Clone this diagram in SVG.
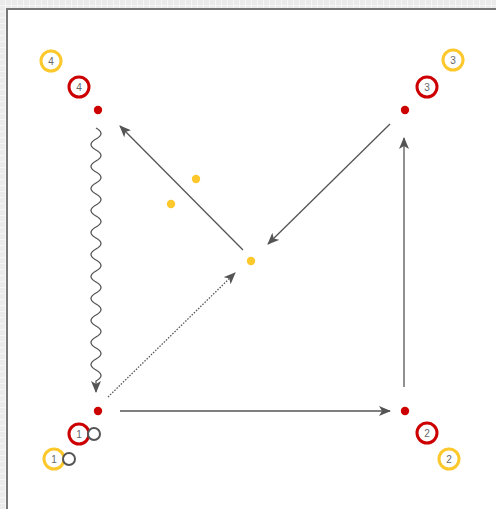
<svg xmlns="http://www.w3.org/2000/svg" width="496" height="509" viewBox="0 0 496 509">
<defs>
<pattern id="grid" width="6" height="6" patternUnits="userSpaceOnUse">
<rect width="6" height="6" fill="#f6f6f6"/>
<rect x="0" y="0" width="5" height="5" fill="#ebebeb"/>
</pattern>
<marker id="ah" markerWidth="12" markerHeight="10" refX="11" refY="5" orient="auto" markerUnits="userSpaceOnUse">
<path d="M0,0 L12,5 L0,10 L3,5 z" fill="#555"/>
</marker>
<style>
.conn{fill:none;stroke:#555;stroke-width:1.3}
.dot{fill:#cc0000}
.ydot{fill:#fcc82b}
.rr{fill:#fff;stroke:#cc0000;stroke-width:3}
.yr{fill:#fff;stroke:#fcc82b;stroke-width:3}
.gr{fill:#fff;stroke:#555;stroke-width:2}
.lbl{font-family:"Liberation Sans",Arial,sans-serif;font-size:10px;fill:#666;text-anchor:middle;dominant-baseline:central}
</style>
</defs>
<rect width="496" height="509" fill="url(#grid)"/>
<rect x="7" y="9" width="500" height="510" fill="#fff" stroke="#777" stroke-width="2"/>
<g id="connectors">
<line class="conn" x1="120" y1="411" x2="390" y2="411" marker-end="url(#ah)"/>
<line class="conn" x1="404" y1="387" x2="404" y2="138" marker-end="url(#ah)"/>
<line class="conn" x1="390" y1="124" x2="268" y2="244" marker-end="url(#ah)"/>
<line class="conn" x1="243" y1="250" x2="120" y2="126" marker-end="url(#ah)"/>
<line class="conn" x1="108" y1="397" x2="235" y2="273" stroke-dasharray="1.5,1.5" stroke-width="1.1" marker-end="url(#ah)"/>
<path class="conn" d="M96,128 q10,5.5 0,11 t0,11 t0,11 t0,11 t0,11 t0,11 t0,11 t0,11 t0,11 t0,11 t0,11 t0,11 t0,11 t0,11 t0,11 t0,11 t0,11 t0,11 t0,11 t0,11 t0,11 t0,11 t0,11 L96,392" marker-end="url(#ah)"/>
</g>
<g id="node4">
<circle class="dot" cx="98" cy="110" r="4.2"/>
<circle class="rr" cx="79" cy="87" r="10"/><text class="lbl" x="79" y="87">4</text>
<circle class="yr" cx="51" cy="61" r="10"/><text class="lbl" x="51" y="61">4</text>
</g>
<g id="node3">
<circle class="dot" cx="405" cy="110" r="4.2"/>
<circle class="rr" cx="427" cy="87" r="10"/><text class="lbl" x="427" y="87">3</text>
<circle class="yr" cx="453" cy="60" r="10"/><text class="lbl" x="453" y="60">3</text>
</g>
<g id="node1">
<circle class="dot" cx="98" cy="411" r="4.2"/>
<circle class="rr" cx="79" cy="434" r="10"/><text class="lbl" x="79" y="434">1</text>
<circle class="gr" cx="94" cy="434" r="6"/>
<circle class="yr" cx="54" cy="459" r="10"/><text class="lbl" x="54" y="459">1</text>
<circle class="gr" cx="69" cy="459" r="6"/>
</g>
<g id="node2">
<circle class="dot" cx="405" cy="411" r="4.2"/>
<circle class="rr" cx="427" cy="433" r="10"/><text class="lbl" x="427" y="433">2</text>
<circle class="yr" cx="449" cy="459" r="10"/><text class="lbl" x="449" y="459">2</text>
</g>
<g id="balls">
<circle class="ydot" cx="196" cy="179" r="4.2"/>
<circle class="ydot" cx="171" cy="204" r="4.2"/>
<circle class="ydot" cx="251" cy="261" r="4.2"/>
</g>
</svg>
